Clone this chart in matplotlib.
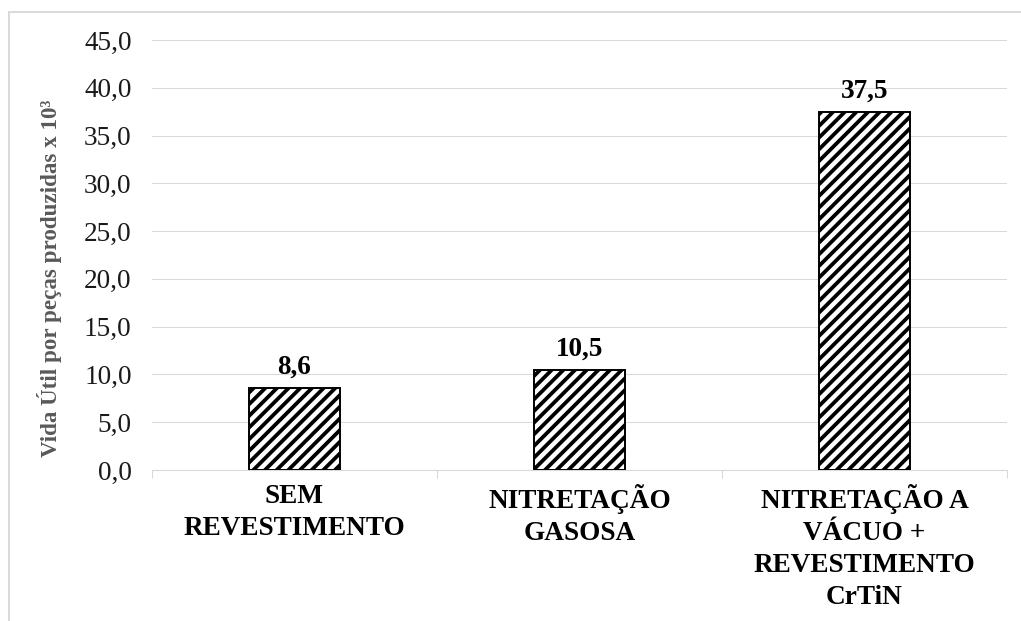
import numpy as np
import matplotlib
matplotlib.use("Agg")
import matplotlib.pyplot as plt
from matplotlib.patches import Rectangle

# tool life per surface treatment (thousands of parts)
categories = ["SEM\nREVESTIMENTO", "NITRETAÇÃO\nGASOSA", "NITRETAÇÃO A\nVÁCUO +\nREVESTIMENTO\nCrTiN"]
vidautil = [8.6, 10.5, 37.5]
yticks = np.arange(0, 50, 5)
ylabel = "Vida Útil por peças produzidas x 10³"

DPI = 70
FS = 28

###########################################################################
def main():
    plt.rcParams['font.family'] = ['Liberation Serif', 'DejaVu Serif']
    plt.rcParams['hatch.linewidth'] = 3.9
    plt.rcParams['hatch.color'] = 'black'

    fig = plt.figure(figsize=(1021 / DPI, 621 / DPI), dpi=DPI)
    ax = fig.add_axes([152 / 1021, 1 - 470 / 621, 855 / 1021, 430 / 621])

    # light frame round the chart area
    fig.patches.append(Rectangle((9 / 1021, -0.1), 1.2, 1 - 12 / 621 + 0.1, transform=fig.transFigure,
                                 fill=False, edgecolor='#d9d9d9', linewidth=2.0))

    x = np.arange(len(categories))
    bars = ax.bar(x, vidautil, width=0.32, color='white', edgecolor='black', linewidth=2.0, hatch='//', zorder=3)

    for b, v in zip(bars, vidautil):
        ax.annotate(("%.1f" % v).replace('.', ','), (b.get_x() + b.get_width() / 2, v),
                    xytext=(0, 8), textcoords='offset points', ha='center', va='bottom',
                    fontsize=FS, fontweight='bold', color='black')

    ax.set_xlim(-0.5, len(categories) - 0.5)
    ax.set_ylim(0, 45)
    ax.set_yticks(yticks)
    ax.set_yticklabels([("%.1f" % t).replace('.', ',') for t in yticks], fontsize=FS, color='#1a1a1a')
    ax.yaxis.grid(True, color='#d9d9d9', linewidth=1.1, zorder=0)
    ax.set_axisbelow(True)
    ax.tick_params(axis='y', length=0, pad=21)

    # category labels centred, boundary ticks between groups
    ax.set_xticks(x)
    ax.set_xticklabels(categories, fontsize=FS, fontweight='bold', linespacing=1.38)
    ax.tick_params(axis='x', which='major', length=0, pad=14)
    ax.set_xticks(np.arange(-0.5, len(categories)), minor=True)
    ax.tick_params(axis='x', which='minor', length=8, width=1.1, color='#d9d9d9')

    for s in ['top', 'right', 'left']:
        ax.spines[s].set_visible(False)
    ax.spines['bottom'].set_color('#d9d9d9')
    ax.spines['bottom'].set_linewidth(1.1)

    fig.text(50 / 1021, 1 - 278 / 621, ylabel, rotation=90, ha='center', va='center',
             fontsize=23.6, fontweight='bold', color='#595959')

    fig.savefig("out.png", dpi=DPI)

###############################################################################
if __name__ == "__main__":
    main()
